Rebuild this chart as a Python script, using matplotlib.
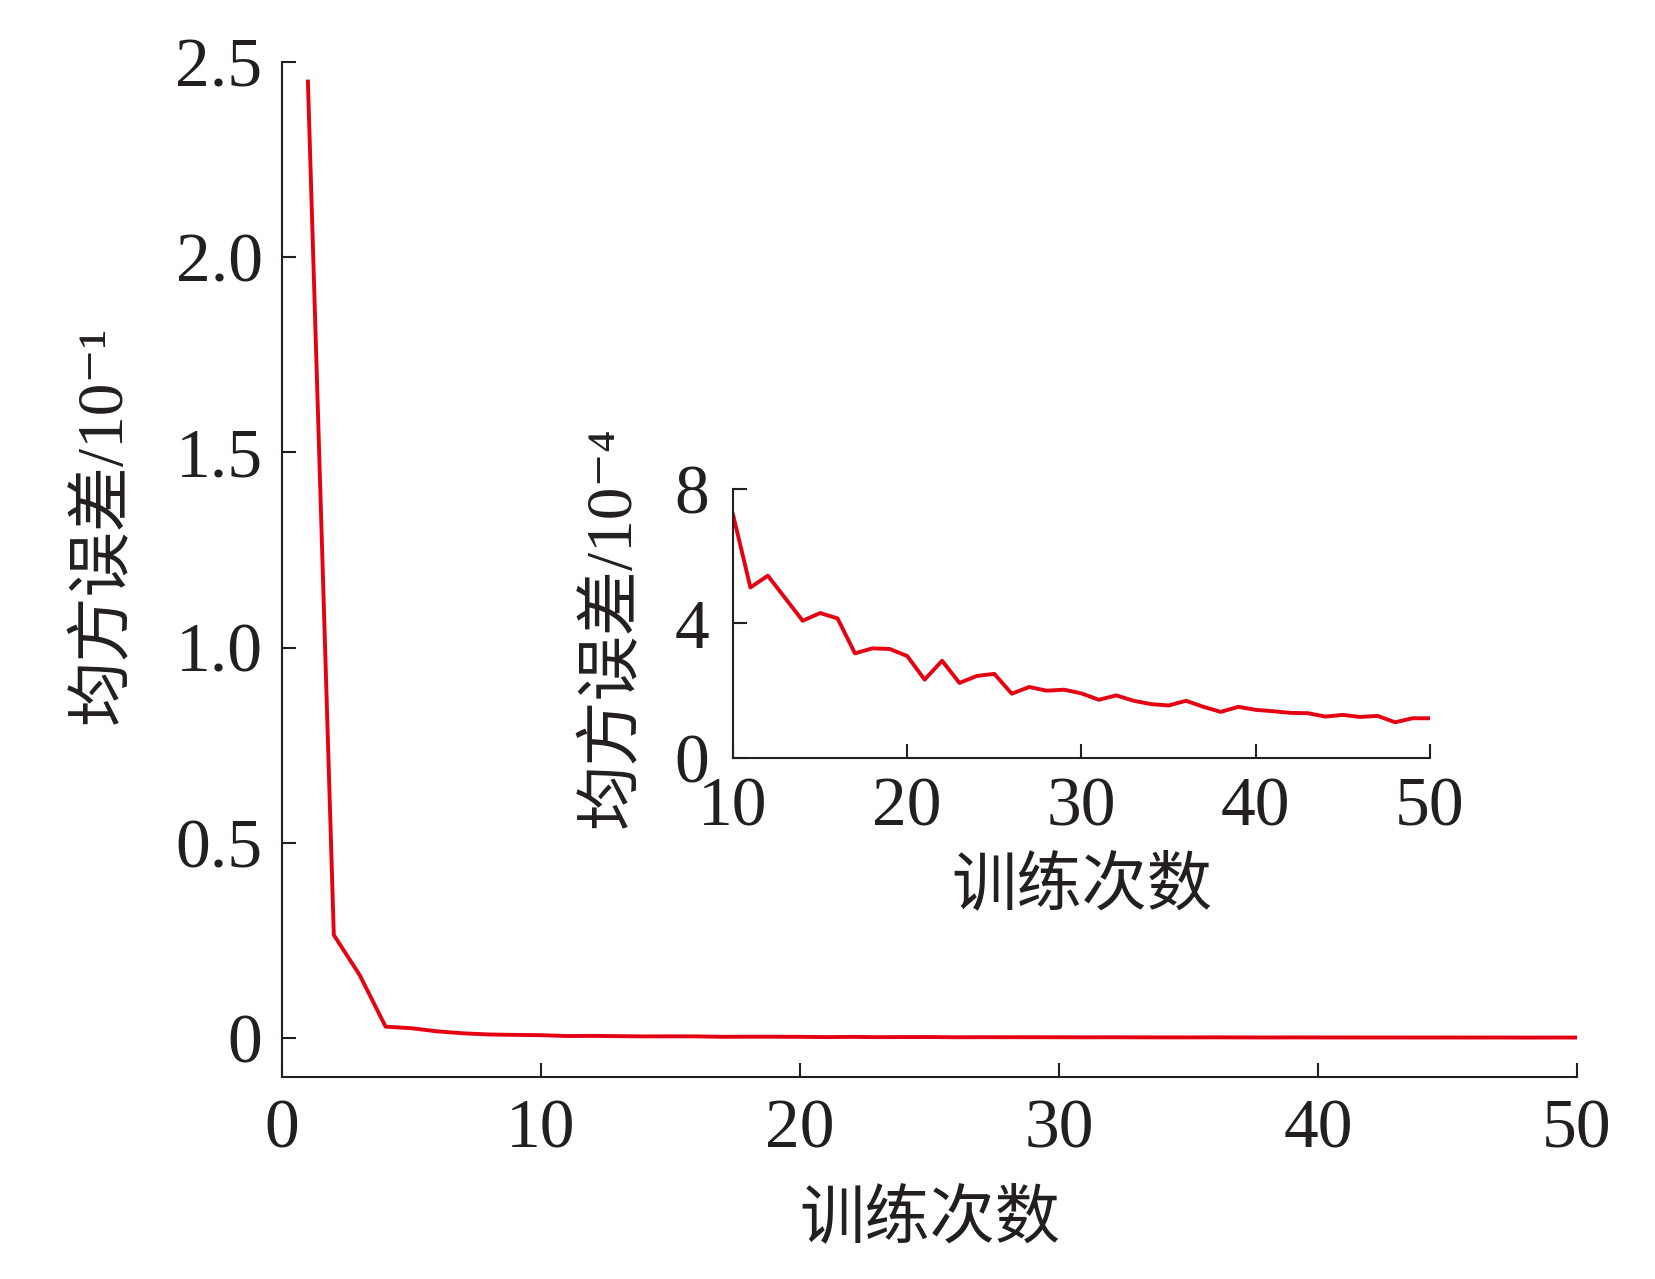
import matplotlib
matplotlib.use('Agg')
import matplotlib.pyplot as plt

# training epochs and mean squared error
epochs_early = [1, 2, 3, 4, 5, 6, 7, 8, 9]
mse_early = [2.45, 0.264, 0.161, 0.029, 0.025, 0.017, 0.012, 0.009, 0.008]   # unit 10^-1

epochs_late = list(range(10, 51))
mse_late = [7.24, 5.07, 5.42, 4.75, 4.08, 4.31, 4.15, 3.11, 3.26, 3.24,
            3.03, 2.33, 2.89, 2.23, 2.44, 2.50, 1.91, 2.11, 2.00, 2.03,
            1.92, 1.73, 1.86, 1.70, 1.60, 1.56, 1.70, 1.52, 1.37, 1.52,
            1.43, 1.39, 1.34, 1.33, 1.23, 1.28, 1.22, 1.25, 1.06, 1.18,
            1.18]   # unit 10^-4

main_xticks = [0, 10, 20, 30, 40, 50]
main_yticks = [0, 0.5, 1.0, 1.5, 2.0, 2.5]
main_ylabels = ['0', '0.5', '1.0', '1.5', '2.0', '2.5']
inset_xticks = [10, 20, 30, 40, 50]
inset_yticks = [0, 4, 8]

xlabel = '训练次数'
ylabel_main = '均方误差/10⁻¹'
ylabel_inset = '均方误差/10⁻⁴'

RED = '#e50012'
DARK = '#231f20'
FAM = ['Liberation Serif', 'Noto Sans CJK SC', 'DejaVu Serif']

plt.rcParams['font.family'] = FAM

fig = plt.figure(figsize=(16.55, 12.79), dpi=100)

# main axes
ax = fig.add_axes([0.1704, 0.1579, 0.9529 - 0.1704, 0.9515 - 0.1579])
# convert the late part to the main axis unit (10^-1)
main_x = epochs_early + epochs_late
main_y = mse_early + [v / 1000 for v in mse_late]
ax.plot(main_x, main_y, color=RED, lw=2.8)
ax.set_xlim(0, 50)
ax.set_ylim(-0.1, 2.5)
ax.set_xticks(main_xticks)
ax.set_yticks(main_yticks)
ax.set_yticklabels(main_ylabels)

# inset
ins = fig.add_axes([0.4429, 0.4074, 0.8640 - 0.4429, 0.6177 - 0.4074])
ins.plot(epochs_late, mse_late, color=RED, lw=2.8)
ins.set_xlim(10, 50)
ins.set_ylim(0, 8)
ins.set_xticks(inset_xticks)
ins.set_yticks(inset_yticks)

for a in (ax, ins):
    a.spines['top'].set_visible(False)
    a.spines['right'].set_visible(False)
    for s in ('left', 'bottom'):
        a.spines[s].set_color(DARK)
        a.spines[s].set_linewidth(1.5)
    a.tick_params(direction='in', length=10, width=1.5, color=DARK,
                  labelsize=50, labelcolor=DARK)
    a.patch.set_alpha(0)

ax.tick_params(axis='x', pad=16)
ax.tick_params(axis='y', pad=14)
ins.tick_params(axis='x', pad=14)
ins.tick_params(axis='y', pad=17)

ax.set_xlabel(xlabel, fontsize=47, color=DARK, va='center')
ax.xaxis.set_label_coords(0.5, -0.142)
ax.set_ylabel(ylabel_main, fontsize=47, color=DARK, va='center')
ax.yaxis.set_label_coords(-0.137, 0.544)

ins.set_xlabel(xlabel, fontsize=47, color=DARK, va='center')
ins.xaxis.set_label_coords(0.5, -0.482)
ins.set_ylabel(ylabel_inset, fontsize=47, color=DARK, va='center')
ins.yaxis.set_label_coords(-0.171, 0.487)

fig.savefig('out.png', dpi=100)
